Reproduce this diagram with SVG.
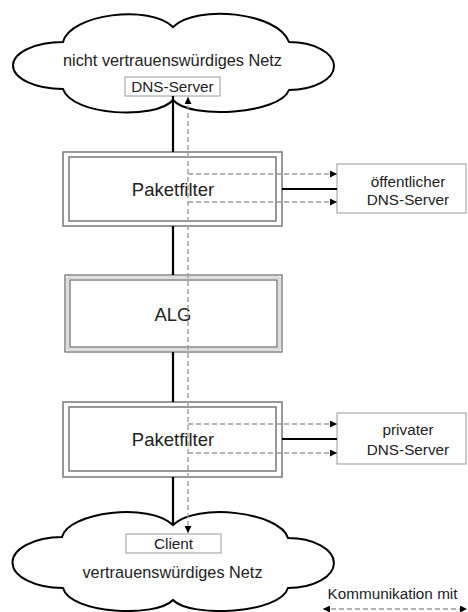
<svg xmlns="http://www.w3.org/2000/svg" width="468" height="612" viewBox="0 0 468 612">
<style>
text{font-family:"Liberation Sans",Arial,sans-serif;fill:#222;text-anchor:middle}
.cloud{fill:#fff;stroke:#000;stroke-width:2}
.frame{fill:#fff;stroke:#777;stroke-width:1.5}
.inner{fill:none;stroke:#777;stroke-width:1.5}
.small{fill:#fff;stroke:#999;stroke-width:1}
.solid{fill:none;stroke:#000;stroke-width:2.2}
.dash{fill:none;stroke:#999;stroke-width:1.3;stroke-dasharray:5 3}
.big{font-size:18.5px}
.med{font-size:16.3px}
.sm{font-size:15.3px}
</style>
<defs>
<marker id="ah" viewBox="0 0 8 8" refX="8" refY="4" markerWidth="7" markerHeight="7" markerUnits="userSpaceOnUse" orient="auto-start-reverse">
<path d="M0,0 L8,4 L0,8 Z" fill="#000"/>
</marker>
</defs>
<g id="untrusted-net">
<path class="cloud" d="M63,42 C70,14 150,4 173,27 C196,4 278,12 289,42 A45,24 0 0 1 289,90 C280,114 190,120 173,100 C156,120 72,116 63,89 A50,23.5 0 0 1 63,42 Z"/>
<text class="med" x="172.5" y="66">nicht vertrauenswürdiges Netz</text>
</g>
<g id="dns-server-ext">
<rect class="small" x="125" y="77" width="95" height="19"/>
<text class="sm" x="172.5" y="92">DNS-Server</text>
</g>
<g id="trusted-net">
<path class="cloud" d="M62,537 C68,512 150,502 173,525 C196,502 280,512 288,538 A46,25 0 0 1 288,588 C280,614 190,618 173,600 C156,618 70,614 63,588 A50,25.5 0 0 1 62,537 Z"/>
<text class="med" x="172.5" y="578">vertrauenswürdiges Netz</text>
</g>
<g id="client">
<rect class="small" x="126" y="534" width="95" height="19"/>
<text class="sm" x="173.5" y="549">Client</text>
</g>
<g id="paketfilter-1">
<rect class="frame" x="63" y="152" width="219" height="74"/>
<rect class="inner" x="69" y="157" width="207" height="64"/>
<text class="big" x="173" y="196">Paketfilter</text>
</g>
<g id="alg">
<rect x="65" y="275" width="217" height="77" fill="#fff" stroke="#666" stroke-width="1.2"/>
<rect x="67.5" y="277.5" width="212" height="72" fill="none" stroke="#bbb" stroke-width="3" stroke-dasharray="1 1"/>
<rect x="70" y="280" width="207" height="67" fill="none" stroke="#666" stroke-width="1.2"/>
<text class="big" x="173" y="321">ALG</text>
</g>
<g id="paketfilter-2">
<rect class="frame" x="63" y="402" width="219" height="75"/>
<rect class="inner" x="69" y="407" width="207" height="64"/>
<text class="big" x="173" y="446">Paketfilter</text>
</g>
<g id="public-dns">
<rect class="small" x="337" y="164" width="129" height="49"/>
<text class="sm" x="408" y="187">öffentlicher</text>
<text class="sm" x="408" y="205">DNS-Server</text>
</g>
<g id="private-dns">
<rect class="small" x="337" y="413" width="129" height="51"/>
<text class="sm" x="408" y="435">privater</text>
<text class="sm" x="408" y="455">DNS-Server</text>
</g>
<g id="connectors">
<path class="solid" d="M173,96 V152 M173,226 V275 M173,352 V402 M173,477 V525 M282,189 H337 M282,439 H337"/>
<path class="dash" d="M188,97 V533" marker-start="url(#ah)" marker-end="url(#ah)"/>
<path class="dash" d="M188,174 H337" marker-end="url(#ah)"/>
<path class="dash" d="M188,202 H337" marker-end="url(#ah)"/>
<path class="dash" d="M188,424 H337" marker-end="url(#ah)"/>
<path class="dash" d="M188,453 H337" marker-end="url(#ah)"/>
</g>
<g id="legend">
<text class="sm" x="392.5" y="599">Kommunikation mit</text>
<path class="dash" d="M323,609 H467" marker-start="url(#ah)" marker-end="url(#ah)"/>
</g>
</svg>
